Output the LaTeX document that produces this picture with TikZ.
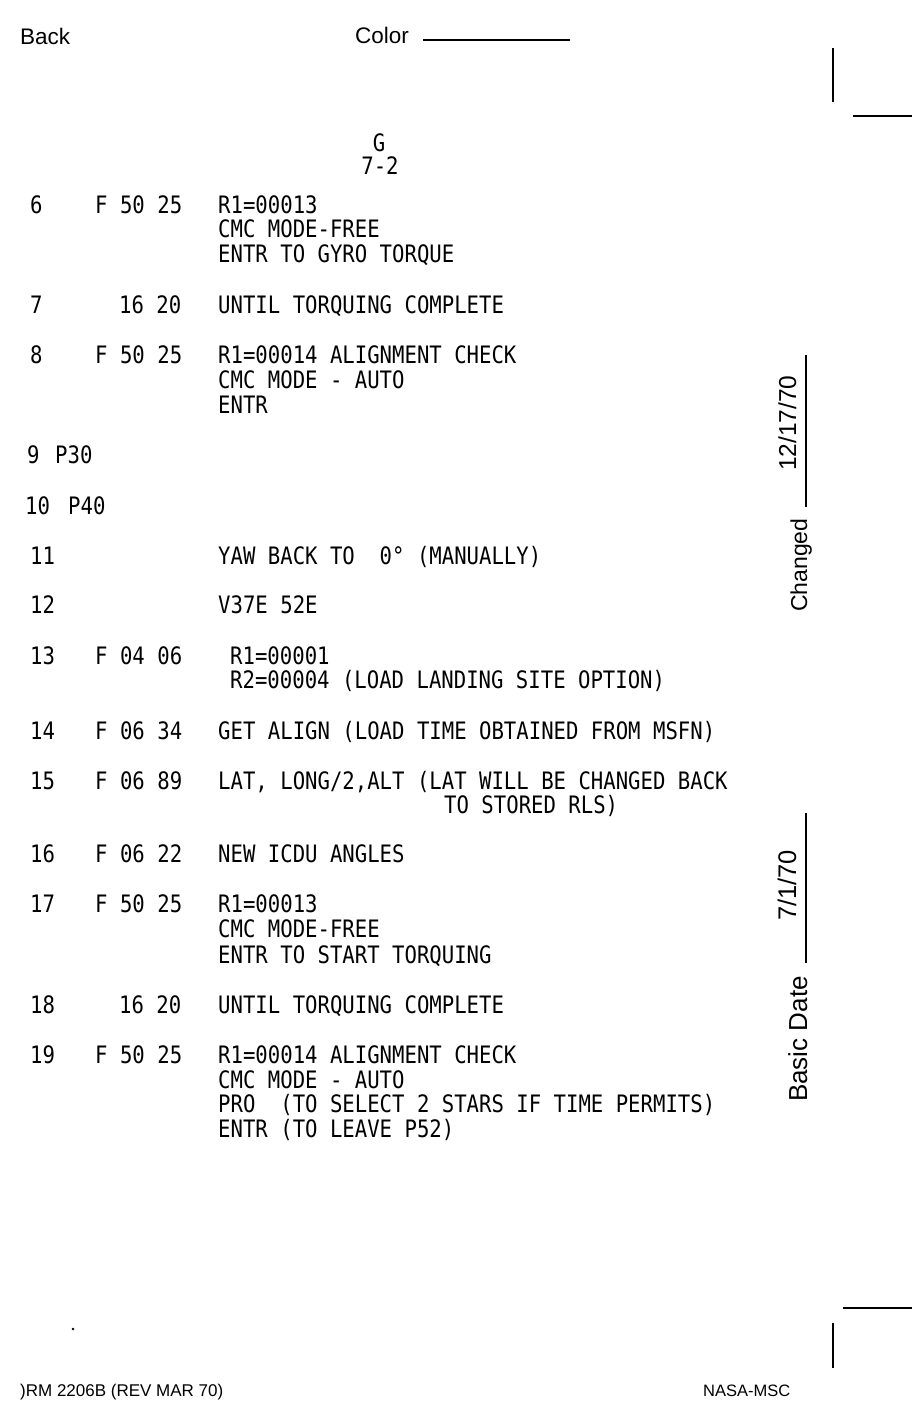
\documentclass[tikz,border=0pt]{standalone}
\usepackage{fontspec}
\setmainfont{Liberation Sans}
\newfontfamily\typer[FakeStretch=0.86]{DejaVu Sans Mono}
\newcommand{\typed}{\typer\fontsize{24}{25}\selectfont}

\begin{document}
\begin{tikzpicture}[x=1pt,y=-1pt,
	typed/.style={font=\typed, anchor=base west, inner sep=0pt},
	printed/.style={font=\fontsize{22.5}{26}\selectfont, anchor=base west, inner sep=0pt},
	footer/.style={font=\fontsize{17}{20}\selectfont, anchor=base west, inner sep=0pt},
	printline/.style={line width=1.6pt},
	dateline/.style={line width=1.2pt}]
	\useasboundingbox[fill=white] (0,0) rectangle (912,1422);
	
	% header
	\draw (20,44) node[printed] (back) {Back};
	\draw (355,43) node[printed] (color) {Color};
	\draw[dateline] (423,40) -- (570,40);
	\draw (379,151) node[typed, anchor=base] (sheet) {G};
	\draw (380,174) node[typed, anchor=base] (page) {7-2};
	
	% corner marks
	\draw[printline] (833,48) -- (833,102);
	\draw[printline] (853,116) -- (912,116);
	\draw[printline] (843,1308) -- (912,1308);
	\draw[printline] (833,1323) -- (833,1368);
	
	% steps
	\draw (30,213) node[typed] (n6) {6} (95,213) node[typed] (c6) {F 50 25};
	\draw (218,213) node[typed] (t6a) {R1=00013};
	\draw (218,237) node[typed] (t6b) {CMC MODE-FREE};
	\draw (218,262) node[typed] (t6c) {ENTR TO GYRO TORQUE};
	
	\draw (30,313) node[typed] (n7) {7} (119,313) node[typed] (c7) {16 20};
	\draw (218,313) node[typed] (t7) {UNTIL TORQUING COMPLETE};
	
	\draw (30,363) node[typed] (n8) {8} (95,363) node[typed] (c8) {F 50 25};
	\draw (218,363) node[typed] (t8a) {R1=00014 ALIGNMENT CHECK};
	\draw (218,388) node[typed] (t8b) {CMC MODE - AUTO};
	\draw (218,413) node[typed] (t8c) {ENTR};
	
	\draw (27,463) node[typed] (n9) {9} (55,463) node[typed] (p9) {P30};
	\draw (25,514) node[typed] (n10) {10} (68,514) node[typed] (p10) {P40};
	
	\draw (30,564) node[typed] (n11) {11};
	\draw (218,564) node[typed] (t11) {YAW BACK TO\ \ 0° (MANUALLY)};
	
	\draw (30,613) node[typed] (n12) {12};
	\draw (218,613) node[typed] (t12) {V37E 52E};
	
	\draw (30,664) node[typed] (n13) {13} (95,664) node[typed] (c13) {F 04 06};
	\draw (230,664) node[typed] (t13a) {R1=00001};
	\draw (230,688) node[typed] (t13b) {R2=00004 (LOAD LANDING SITE OPTION)};
	
	\draw (30,739) node[typed] (n14) {14} (95,739) node[typed] (c14) {F 06 34};
	\draw (218,739) node[typed] (t14) {GET ALIGN (LOAD TIME OBTAINED FROM MSFN)};
	
	\draw (30,789) node[typed] (n15) {15} (95,789) node[typed] (c15) {F 06 89};
	\draw (218,789) node[typed] (t15a) {LAT, LONG/2,ALT (LAT WILL BE CHANGED BACK};
	\draw (444,813) node[typed] (t15b) {TO STORED RLS)};
	
	\draw (30,862) node[typed] (n16) {16} (95,862) node[typed] (c16) {F 06 22};
	\draw (218,862) node[typed] (t16) {NEW ICDU ANGLES};
	
	\draw (30,912) node[typed] (n17) {17} (95,912) node[typed] (c17) {F 50 25};
	\draw (218,912) node[typed] (t17a) {R1=00013};
	\draw (218,937) node[typed] (t17b) {CMC MODE-FREE};
	\draw (218,963) node[typed] (t17c) {ENTR TO START TORQUING};
	
	\draw (30,1013) node[typed] (n18) {18} (119,1013) node[typed] (c18) {16 20};
	\draw (218,1013) node[typed] (t18) {UNTIL TORQUING COMPLETE};
	
	\draw (30,1063) node[typed] (n19) {19} (95,1063) node[typed] (c19) {F 50 25};
	\draw (218,1063) node[typed] (t19a) {R1=00014 ALIGNMENT CHECK};
	\draw (218,1088) node[typed] (t19b) {CMC MODE - AUTO};
	\draw (218,1112) node[typed] (t19c) {PRO\ \ (TO SELECT 2 STARS IF TIME PERMITS)};
	\draw (218,1137) node[typed] (t19d) {ENTR (TO LEAVE P52)};
	
	% change dates
	\draw (807,612) node[printed, rotate=90, font=\fontsize{23}{26}\selectfont] (changed) {Changed};
	\draw (796,471) node[printed, rotate=90, font=\fontsize{24.5}{28}\selectfont] (changedate) {12/17/70};
	\draw[dateline] (806,355) -- (806,507);
	\draw (807,1102) node[printed, rotate=90, font=\fontsize{26}{30}\selectfont] (basic) {Basic Date};
	\draw (796,921) node[printed, rotate=90, font=\fontsize{25.5}{28}\selectfont] (basicdate) {7/1/70};
	\draw[dateline] (806,813) -- (806,963);
	
	% footer
	\fill (73,1329) circle (1.3pt);
	\draw (20,1396) node[footer] (form) {)RM 2206B (REV MAR 70)};
	\draw (703,1396) node[footer, font=\fontsize{16.5}{20}\selectfont] (agency) {NASA-MSC};
\end{tikzpicture}
\end{document}
